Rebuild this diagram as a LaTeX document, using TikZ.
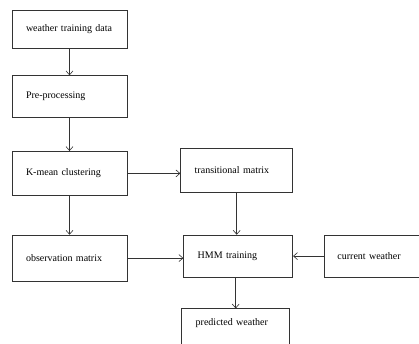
\documentclass[tikz,border=0pt]{standalone}
\usepackage{fontspec}
\setmainfont{Liberation Serif}
\usepackage{tikz}
\usetikzlibrary{arrows.meta,positioning,calc}

\tikzset{
  blk/.style={draw=black!80, line width=0.7pt, text width=#1, align=left,
    inner xsep=14pt, inner ysep=0pt, font=\fontsize{10}{12}\selectfont},
  flow/.style={draw=black!80, line width=0.6pt, -{Straight Barb[length=4pt,width=7pt]}}
}

\begin{document}
\begin{tikzpicture}[x=1pt, y=-1pt]
    \path[use as bounding box, clip] (0,0) rectangle (419,344);
    \node[blk=87pt, minimum height=38pt] (wtd) at (69.5,29) {weather training data};
    \node[blk=87pt, minimum height=42pt, below=27pt of wtd] (pre) {Pre-processing};
    \node[blk=87pt, minimum height=44pt, below=33pt of pre] (km) {K-mean clustering};
    \node[blk=87pt, minimum height=46pt, below=39pt of km] (obs) {observation matrix};
    \node[blk=84pt, minimum height=44pt, right=53pt of km, yshift=3pt] (trans) {transitional matrix};
    \node[blk=81pt, minimum height=42pt, right=56pt of obs, yshift=2pt] (hmm) {HMM training};
    \node[blk=90pt, minimum height=42pt, right=31pt of hmm, inner xsep=13pt] (cur) {current weather};
    \node[blk=80pt, inner ysep=10pt, text height=7pt, text depth=35pt, below=31pt of hmm, xshift=-2.5pt] (pred) {predicted weather};
    \draw[flow] (wtd) -- (pre);
    \draw[flow] (pre) -- (km);
    \draw[flow] (km) -- (obs);
    \draw[flow] (km.east) -- (km.east -| trans.west);
    \draw[flow] (trans.south) -- (trans.south |- hmm.north);
    \draw[flow] (obs.east) -- (obs.east -| hmm.west);
    \draw[flow] (cur.west) -- (cur.west -| hmm.east);
    \draw[flow] (hmm.south -| pred.north) -- (pred.north);
\end{tikzpicture}
\end{document}
